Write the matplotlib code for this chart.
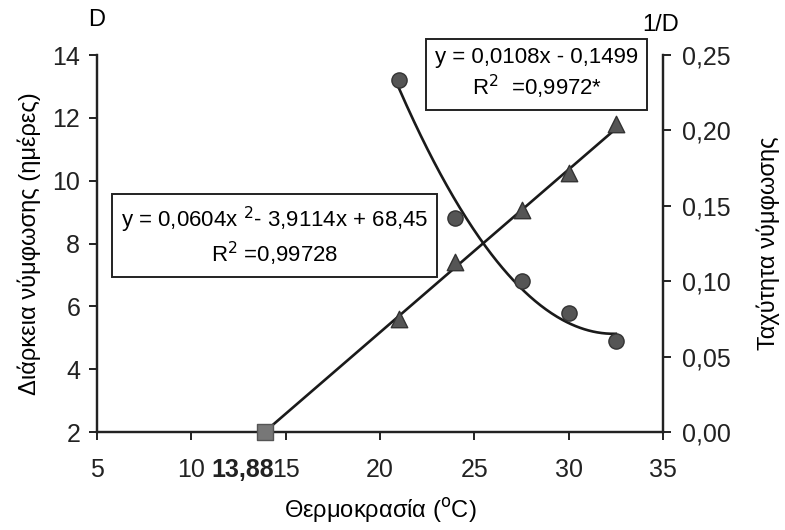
import matplotlib
matplotlib.use("Agg")
import matplotlib.pyplot as plt
import numpy as np

plt.rcParams['font.family'] = ['Liberation Sans', 'DejaVu Sans']

# temperatures (oC) and pupal duration D (days)
temp = [21, 24, 27.5, 30, 32.5]
duration = [13.2, 8.8, 6.8, 5.8, 4.9]
# development rate 1/D
rate = [0.075, 0.113, 0.147, 0.172, 0.204]

# fitted curves
quad = [0.0604, -3.9114, 68.45]
lin = [0.0108, -0.1499]
t0 = 13.88

fig = plt.figure(figsize=(7.85, 5.3), dpi=100)
ax = fig.add_axes([0.1236, 0.1849, 0.721, 0.7113])
ax2 = ax.twinx()

# duration: quadratic trend + points
xq = np.linspace(temp[0], temp[-1], 200)
ax.plot(xq, np.polyval(quad, xq), color='#1a1a1a', lw=1.9, zorder=3)
ax.scatter(temp, duration, s=120, color='#555555', edgecolor='#333333', zorder=4)

# rate: linear trend from the threshold temperature
xl = np.array([t0, temp[-1]])
ax2.plot(xl, np.polyval(lin, xl), color='#1a1a1a', lw=1.9, zorder=3)
ax2.scatter(temp, rate, marker='^', s=140, color='#555555', edgecolor='#333333', zorder=4)
ax2.scatter([t0], [0], marker='s', s=120, color='#777777', edgecolor='#555555', zorder=5, clip_on=False)

ax.set_xlim(5, 35)
ax.set_ylim(2, 14)
ax2.set_ylim(0, 0.25)
ax.set_xticks([5, 10, 15, 20, 25, 30, 35])
ax.set_yticks([2, 4, 6, 8, 10, 12, 14])
ax2.set_yticks([0, 0.05, 0.10, 0.15, 0.20, 0.25])
ax2.set_yticklabels(['0,00', '0,05', '0,10', '0,15', '0,20', '0,25'])

for a in (ax, ax2):
    a.spines['top'].set_visible(False)
    for s in a.spines.values():
        s.set_linewidth(1.6)
        s.set_color('#222222')
    a.tick_params(direction='out', length=6, width=1.4, labelsize=18, colors='#222222')
ax.tick_params(axis='x', pad=13)
ax.tick_params(axis='y', pad=6)
ax2.tick_params(axis='y', pad=8)

# threshold temperature, set in bold beside the 15 tick
ax.annotate('13,88', xy=(14.4, 0), xycoords=('data', 'axes fraction'),
            xytext=(0, -19), textcoords='offset points', ha='right', va='top',
            fontsize=18, fontweight='bold', color='#222222')

ax.set_xlabel('Θερμοκρασία ($^{\\mathrm{o}}$C)', fontsize=17, labelpad=10)
ax.set_ylabel('Διάρκεια νύμφωσης (ημέρες)', fontsize=17, labelpad=8)
ax2.set_ylabel('Ταχύτητα νύμφωσης', fontsize=17, labelpad=18, rotation=90)

ax.text(0, 1.065, 'D', transform=ax.transAxes, ha='center', va='bottom', fontsize=17)
ax2.text(0.995, 1.05, '1/D', transform=ax2.transAxes, ha='center', va='bottom', fontsize=17)

box = dict(boxstyle='square,pad=0.4', fc='white', ec='#222222', lw=1.4)
ax.text(14.4, 8.22, 'y = 0,0604x $^{2}$- 3,9114x + 68,45\nR$^{2}$ =0,99728',
        ha='center', va='center', fontsize=16, linespacing=1.2, bbox=box, zorder=5)
ax.text(28.3, 13.4, 'y = 0,0108x - 0,1499\nR$^{2}$  =0,9972*',
        ha='center', va='center', fontsize=16, linespacing=1.2, bbox=box, zorder=5)

fig.savefig('out.png', dpi=100)
